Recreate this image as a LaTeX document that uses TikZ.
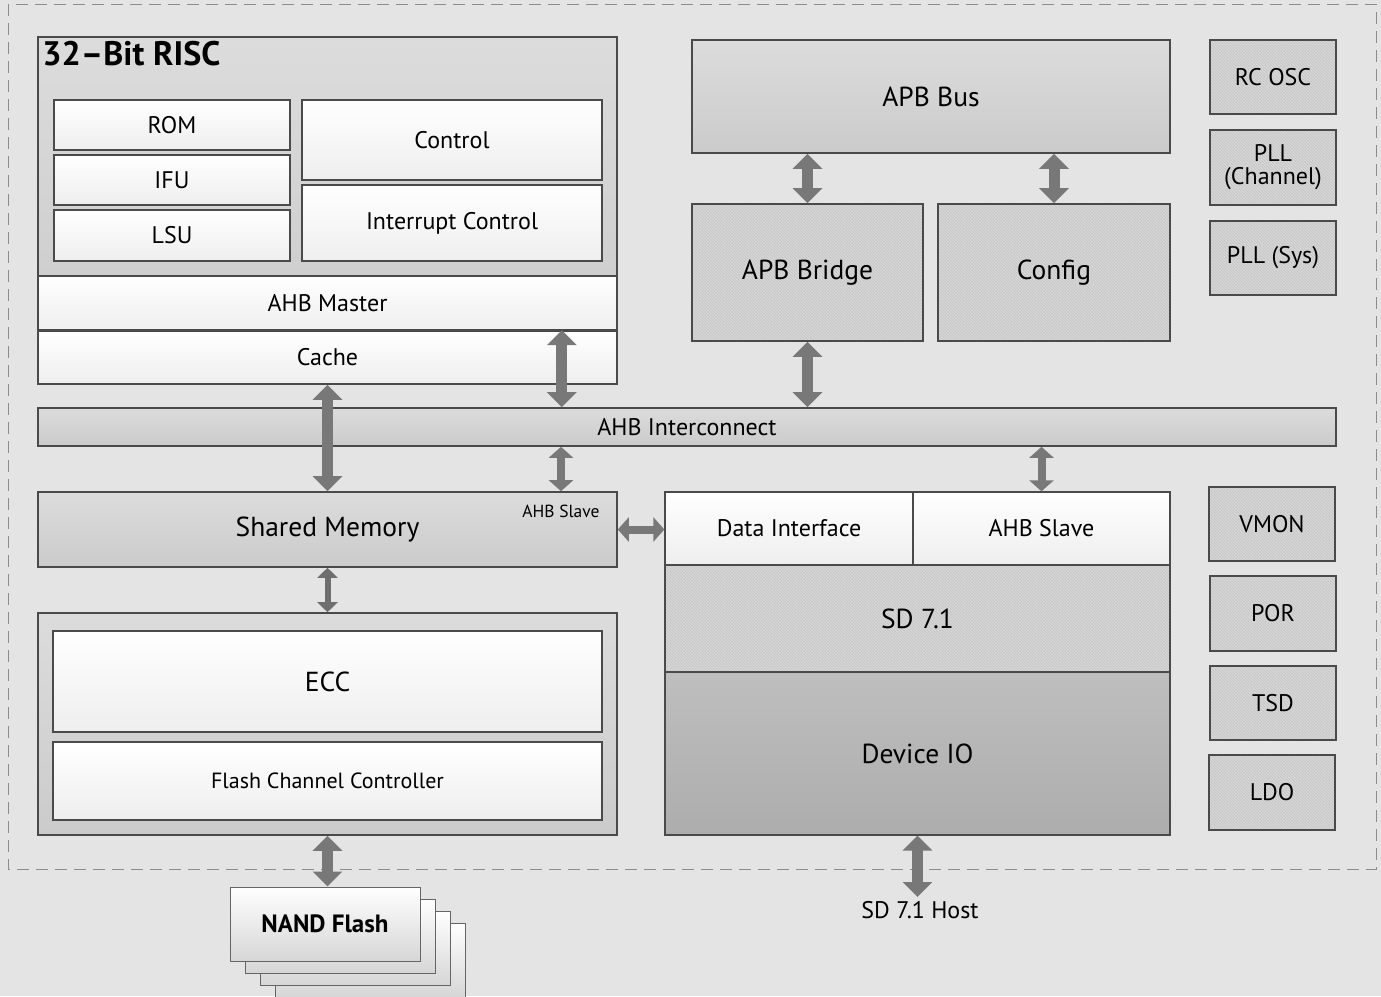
\documentclass[tikz,border=0pt]{standalone}
\usepackage{fontspec}
\setmainfont{PT Sans}
\usetikzlibrary{arrows.meta, patterns}
\definecolor{bggray}{HTML}{E4E4E4}
\definecolor{frameline}{HTML}{8C8C8C}
\definecolor{boxline}{HTML}{4A4A4A}
\definecolor{grayhi}{HTML}{DCDCDC}
\definecolor{graylo}{HTML}{CBCBCB}
\definecolor{whitelo}{HTML}{EEEEEE}
\definecolor{hatchbg}{HTML}{D6D6D6}
\definecolor{hatchln}{HTML}{C4C4C4}
\definecolor{iohi}{HTML}{BEBEBE}
\definecolor{iolo}{HTML}{ADADAD}
\definecolor{arrowgray}{HTML}{787878}
\newcommand\smtxt{\fontsize{24}{26}\selectfont}
\newcommand\midtxt{\fontsize{22}{25}\selectfont}
\newcommand\bigtxt{\fontsize{27.5}{31}\selectfont}
\newcommand\tinytxt{\fontsize{17.5}{20}\selectfont}
\newcommand\titletxt{\fontsize{34}{38}\selectfont\bfseries}

\begin{document}
\begin{tikzpicture}[x=1pt, y=-1pt,
  box/.style={draw=boxline, line width=1.6pt, inner sep=0pt, text=black},
  graybox/.style={box, top color=grayhi, bottom color=graylo},
  whitebox/.style={box, line width=1.3pt, top color=white, bottom color=whitelo, font=\smtxt},
  hatchbox/.style={box, preaction={fill=hatchbg}, pattern=north west lines, pattern color=hatchln},
  sidebox/.style={hatchbox, minimum width=126pt, font=\smtxt, align=center},
  bigarrow/.style={draw=arrowgray, line width=11pt, {Triangle[length=15pt,width=29pt]}-{Triangle[length=15pt,width=29pt]}},
  smallarrow/.style={draw=arrowgray, line width=8pt, {Triangle[length=11pt,width=24pt]}-{Triangle[length=11pt,width=24pt]}},
  thinarrow/.style={draw=boxline!80, line width=6pt, {Triangle[length=10pt,width=20pt]}-{Triangle[length=10pt,width=20pt]}},
  nandbox/.style={draw=boxline!85, line width=1pt, top color=white, bottom color=whitelo!90!black, minimum width=190pt, minimum height=74pt},
]
\useasboundingbox[fill=bggray] (0,0) rectangle (1381,996);
\draw[frameline, line width=1pt, dash pattern=on 12pt off 7pt] (8,4) rectangle (1376,869);

% 32-bit RISC
\node[graybox, minimum width=579pt, minimum height=315pt] (risc) at (327.5,194.5) {};
\node[anchor=north west, font=\titletxt, inner sep=0pt] (risctitle) at ([xshift=5pt,yshift=-5pt]risc.north west) {32--Bit RISC};
\node[whitebox, minimum width=236pt, minimum height=50pt] (rom) at (172,125) {ROM};
\node[whitebox, minimum width=236pt, minimum height=50pt] (ifu) at (172,180) {IFU};
\node[whitebox, minimum width=236pt, minimum height=51pt] (lsu) at (172,235.5) {LSU};
\node[whitebox, minimum width=300pt, minimum height=80pt] (ctrl) at (452,140) {Control};
\node[whitebox, minimum width=300pt, minimum height=76pt] (irq) at (452,223) {Interrupt Control};
\node[whitebox, line width=1.6pt, minimum width=579pt, minimum height=54pt] (master) at (327.5,303) {AHB Master};
\node[whitebox, line width=1.6pt, minimum width=579pt, minimum height=53pt] (cache) at (327.5,357.5) {Cache};

% APB side
\node[graybox, minimum width=478pt, minimum height=113pt, font=\bigtxt] (apbbus) at (931,96.5) {APB Bus};
\node[hatchbox, minimum width=231pt, minimum height=137pt, font=\bigtxt] (bridge) at (807.5,272.5) {APB Bridge};
\node[hatchbox, minimum width=232pt, minimum height=137pt, font=\bigtxt] (config) at (1054,272.5) {Config};

% analog blocks
\node[sidebox, minimum height=74pt] (rcosc) at (1273,77) {RC OSC};
\node[sidebox, minimum height=75pt] (pllch) at (1273,167.5) {PLL\\[-3pt](Channel)};
\node[sidebox, minimum height=74pt] (pllsys) at (1273,258) {PLL (Sys)};
\node[sidebox, minimum height=74pt] (vmon) at (1272,524) {VMON};
\node[sidebox, minimum height=75pt] (por) at (1273,613.5) {POR};
\node[sidebox, minimum height=74pt] (tsd) at (1273,703) {TSD};
\node[sidebox, minimum height=75pt] (ldo) at (1272,792.5) {LDO};

% bus
\node[graybox, minimum width=1298pt, minimum height=38pt, font=\smtxt] (ahb) at (687,427) {AHB Interconnect};

% memory and flash
\node[graybox, minimum width=579pt, minimum height=75pt, font=\bigtxt] (shmem) at (327.5,529.5) {Shared Memory};
\node[font=\tinytxt, inner sep=0pt] (shslave) at (561,511) {AHB Slave};
\node[graybox, minimum width=579pt, minimum height=222pt] (flashctl) at (327.5,724) {};
\node[whitebox, minimum width=549pt, minimum height=101pt, font=\bigtxt] (ecc) at (327.5,681.5) {ECC};
\node[whitebox, minimum width=549pt, minimum height=78pt, font=\midtxt] (fcc) at (327.5,781) {Flash Channel Controller};

% SD device
\node[whitebox, minimum width=248pt, minimum height=73pt] (datai) at (789,528.5) {Data Interface};
\node[whitebox, minimum width=257pt, minimum height=73pt] (sdslave) at (1041.5,528.5) {AHB Slave};
\node[hatchbox, line width=1.3pt, minimum width=505pt, minimum height=107pt, font=\bigtxt] (sd) at (917.5,618.5) {SD 7.1};
\node[box, line width=1.3pt, top color=iohi, bottom color=iolo, minimum width=505pt, minimum height=163pt, font=\bigtxt] (devio) at (917.5,753.5) {Device IO};

% outside the chip
\node[nandbox] (nand4) at (370,960) {};
\node[nandbox] (nand3) at (355,948) {};
\node[nandbox] (nand2) at (340,936) {};
\node[nandbox, font=\fontsize{25}{29}\selectfont\bfseries] (nand) at (325,924) {NAND Flash};
\node[font=\smtxt, anchor=north, inner sep=4pt] (host) at (920,897) {SD 7.1 Host};

% connections
\draw[bigarrow] (cache.south) -- (shmem.north);
\draw[bigarrow] ([xshift=-56pt]cache.north east) -- ([xshift=-56pt]cache.north east |- ahb.north);
\draw[bigarrow] (bridge.north) -- (bridge.north |- apbbus.south);
\draw[bigarrow] (config.north) -- (config.north |- apbbus.south);
\draw[bigarrow] (bridge.south) -- (bridge.south |- ahb.north);
\draw[smallarrow] (shslave.north |- ahb.south) -- (shslave.north |- shmem.north);
\draw[smallarrow] (sdslave.north |- ahb.south) -- (sdslave.north);
\draw[smallarrow] (shmem.east) -- (datai.west |- shmem.east);
\draw[thinarrow] (shmem.south) -- (flashctl.north);
\draw[bigarrow] (flashctl.south) -- (flashctl.south |- nand.north);
\draw[bigarrow] (devio.south) -- (devio.south |- host.north);
\end{tikzpicture}
\end{document}
